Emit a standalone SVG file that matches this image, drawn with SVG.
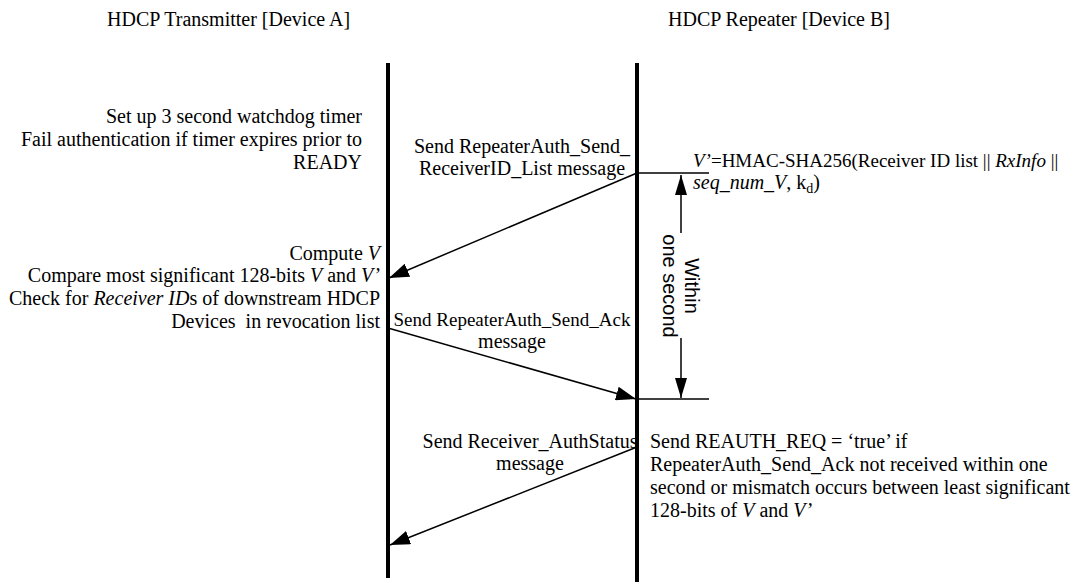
<svg xmlns="http://www.w3.org/2000/svg" width="1075" height="585" viewBox="0 0 1075 585">
<style>
text{font-family:"Liberation Serif","Times New Roman",serif;font-size:20px;fill:#000}
.sans{font-family:"Liberation Sans",Arial,sans-serif}
.i{font-style:italic}
.life{stroke:#000;stroke-width:4;fill:none}
.msg{stroke:#000;stroke-width:1.5;fill:none}
.thin{stroke:#000;stroke-width:1.5;fill:none}
</style>
<defs>
<marker id="ah" viewBox="0 0 20 14" refX="20" refY="7" markerWidth="20" markerHeight="14" markerUnits="userSpaceOnUse" orient="auto">
<path d="M0,0 L20,7 L0,14 Z" fill="#000"/>
</marker>
<marker id="ahs" viewBox="0 0 20 12" refX="20" refY="6" markerWidth="20" markerHeight="12" markerUnits="userSpaceOnUse" orient="auto">
<path d="M0,0 L20,6 L0,12 Z" fill="#000"/>
</marker>
</defs>
<rect width="1075" height="585" fill="#fff"/>

<g id="deviceA">
<text x="107" y="26">HDCP Transmitter [Device A]</text>
<line class="life" x1="388" y1="63" x2="388" y2="578"/>
</g>
<g id="deviceB">
<text x="668" y="26">HDCP Repeater [Device B]</text>
<line class="life" x1="637" y1="63" x2="637" y2="582"/>
</g>

<g id="note-watchdog" text-anchor="end">
<text x="362" y="123">Set up 3 second watchdog timer</text>
<text x="362" y="146">Fail authentication if timer expires prior to</text>
<text x="362" y="169">READY</text>
</g>

<g id="note-compute" text-anchor="end">
<text x="380" y="260">Compute <tspan class="i">V</tspan></text>
<text x="380" y="282">Compare most significant 128-bits <tspan class="i">V</tspan> and <tspan class="i">V’</tspan></text>
<text x="380" y="305">Check for <tspan class="i">Receiver ID</tspan>s of downstream HDCP</text>
<text x="380" y="328" xml:space="preserve">Devices  in revocation list</text>
</g>

<g id="note-vprime">
<text x="693" y="167" style="font-size:19px"><tspan class="i">V’</tspan>=HMAC-SHA256(Receiver ID list || <tspan class="i">RxInfo</tspan> ||</text>
<text x="693" y="189"><tspan class="i">seq_num_V</tspan>, k<tspan font-size="14" dy="4">d</tspan><tspan dy="-4">)</tspan></text>
</g>

<g id="note-reauth">
<text x="650" y="448">Send REAUTH_REQ = ‘true’ if</text>
<text x="650" y="471">RepeaterAuth_Send_Ack not received within one</text>
<text x="650" y="494">second or mismatch occurs between least significant</text>
<text x="650" y="517">128-bits of <tspan class="i">V</tspan> and <tspan class="i">V’</tspan></text>
</g>

<g id="timing">
<line class="thin" x1="637" y1="173" x2="709" y2="173"/>
<line class="thin" x1="637" y1="399" x2="709" y2="399"/>
<line class="thin" x1="681" y1="233" x2="681" y2="175" marker-end="url(#ahs)"/>
<line class="thin" x1="681" y1="338" x2="681" y2="398" marker-end="url(#ahs)"/>
<text class="sans" text-anchor="middle" transform="translate(685,286) rotate(90)">Within</text>
<text class="sans" text-anchor="middle" transform="translate(663,286) rotate(90)">one second</text>
</g>

<g id="connectors">
<line class="msg" x1="637" y1="173" x2="389" y2="278" marker-end="url(#ah)"/>
<line class="msg" x1="388" y1="328" x2="636" y2="399" marker-end="url(#ah)"/>
<line class="msg" x1="637" y1="447" x2="390" y2="545" marker-end="url(#ah)"/>
</g>

<g id="labels" text-anchor="middle">
<text x="522" y="153">Send RepeaterAuth_Send_</text>
<text x="522" y="175">ReceiverID_List message</text>
<text x="512" y="326" style="font-size:19px">Send RepeaterAuth_Send_Ack</text>
<text x="512" y="348">message</text>
<text x="530" y="448">Send Receiver_AuthStatus</text>
<text x="530" y="470">message</text>
</g>
</svg>
